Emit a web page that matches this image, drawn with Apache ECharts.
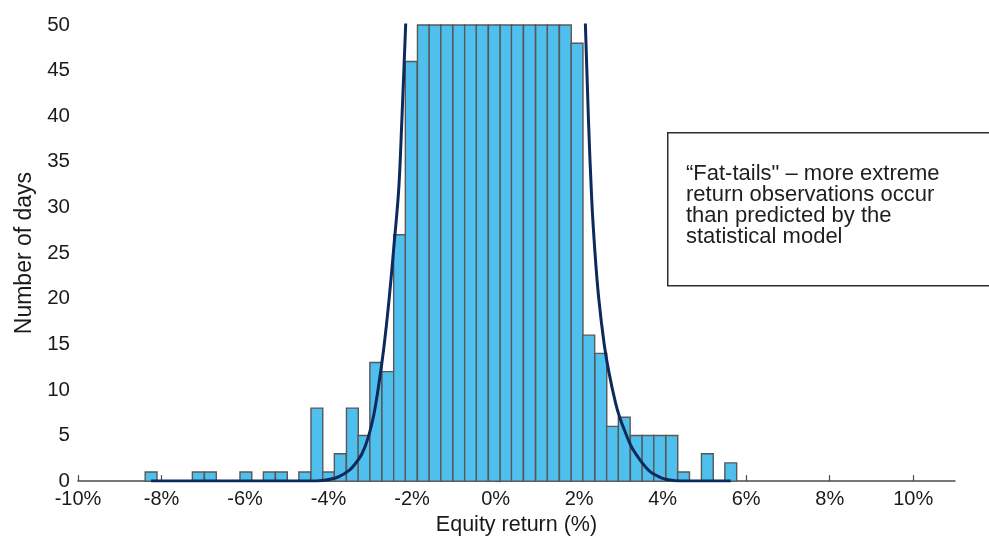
<!DOCTYPE html>
<html>
<head>
<meta charset="utf-8">
<script src="https://cdn.jsdelivr.net/npm/echarts@6/dist/echarts.min.js"></script>
<style>
html,body{margin:0;padding:0;background:#fff;}
#chart{width:989px;height:541px;}
</style>
</head>
<body>
<div id="chart"></div>
<script>
// Histogram bins (centre of bin, % return) and counts (days)
var binCenters = [-8.25, -7.12, -6.83, -5.98, -5.42, -5.13, -4.57, -4.28, -4.00, -3.72, -3.43, -3.15, -2.87, -2.58, -2.30, -2.02,
  -1.73, -1.45, -1.17, -0.88, -0.60, -0.32, -0.03, 0.25, 0.52, 0.81, 1.10, 1.38, 1.67,
  1.95, 2.23, 2.52, 2.80, 3.08, 3.37, 3.65, 3.93, 4.22, 4.50, 5.07, 5.63];
// central bins run off the top of the chart; their heights are estimates
var binCounts = [1, 1, 1, 1, 1, 1, 1, 8, 1, 3, 8, 5, 13, 12, 27, 46,
  68, 95, 128, 165, 205, 240, 255, 245, 210, 170, 125, 90, 64,
  48, 16, 14, 6, 7, 5, 5, 5, 5, 1, 3, 2];
var binWidth = 0.283;

// Fitted "statistical model" curve (null = break above the plot)
var curveX = [-8.25, -4.5, -4.1, -3.77, -3.5, -3.36, -3.2, -3.05, -2.92, -2.8, -2.68, -2.56, -2.44, -2.32, -2.25, -2.15, -2.05,
  0,
  2.05, 2.15, 2.22, 2.3, 2.38, 2.47, 2.6, 2.71, 2.87, 2.97, 3.11, 3.25, 3.43, 3.6, 3.74, 3.9, 4.07, 4.3, 4.6, 5.63];
var curveY = [0, 0, 0.1, 0.45, 1.2, 1.9, 3.0, 4.8, 7.2, 10.5, 14.5, 19.5, 25.5, 32, 39, 50.5, 62,
  null,
  62, 50, 40, 31, 25, 20, 15, 12, 8.6, 7, 5.3, 3.8, 2.5, 1.5, 0.9, 0.5, 0.2, 0.05, 0, 0];

var xTicks = [-10, -8, -6, -4, -2, 0, 2, 4, 6, 8, 10];
var yTicks = [0, 5, 10, 15, 20, 25, 30, 35, 40, 45, 50];

var noteLines = ['\u201cFat-tails" \u2013 more extreme', 'return observations occur', 'than predicted by the', 'statistical model'];

var FONT = '"Liberation Sans", Arial, Helvetica, sans-serif';
var chart = echarts.init(document.getElementById('chart'), null, {renderer: 'canvas'});

var barData = binCenters.map(function (c, i) { return [c, binCounts[i]]; });
var curveData = curveX.map(function (x, i) { return curveY[i] === null ? [x, '-'] : [x, curveY[i]]; });

chart.setOption({
  animation: false,
  backgroundColor: '#ffffff',
  grid: {left: 78, right: 34, top: 25, bottom: 58},
  xAxis: {
    type: 'value', min: -10, max: 11, interval: 2,
    name: 'Equity return (%)', nameLocation: 'middle', nameGap: 31,
    nameTextStyle: {fontFamily: FONT, fontSize: 21.5, color: '#1a1a1a'},
    axisLine: {show: true, onZero: false, lineStyle: {color: '#4a4a4a', width: 1.5}},
    axisTick: {show: true, inside: true, length: 6, customValues: xTicks, lineStyle: {color: '#4a4a4a', width: 1.2}},
    axisLabel: {customValues: xTicks, margin: 8, fontFamily: FONT, fontSize: 20, color: '#1a1a1a',
      formatter: function (v) { return v + '%'; }},
    splitLine: {show: false}
  },
  yAxis: {
    type: 'value', min: 0, max: 50, interval: 5,
    name: 'Number of days', nameLocation: 'middle', nameGap: 40, nameRotate: 90,
    nameTextStyle: {fontFamily: FONT, fontSize: 23, color: '#1a1a1a'},
    axisLine: {show: true, lineStyle: {color: '#4a4a4a', width: 1.5}},
    axisTick: {show: true, inside: true, length: 6, customValues: yTicks, lineStyle: {color: '#4a4a4a', width: 1.2}},
    axisLabel: {customValues: yTicks, margin: 8, fontFamily: FONT, fontSize: 20.5, color: '#1a1a1a'},
    splitLine: {show: false}
  },
  series: [
    {
      type: 'custom',
      data: barData,
      encode: {x: 0, y: 1},
      renderItem: function (params, api) {
        var c = api.value(0), n = api.value(1);
        var p0 = api.coord([c - binWidth / 2, n]);
        var p1 = api.coord([c + binWidth / 2, 0]);
        var shape = echarts.graphic.clipRectByRect({
          x: p0[0], y: p0[1], width: p1[0] - p0[0], height: p1[1] - p0[1]
        }, {
          x: params.coordSys.x, y: params.coordSys.y,
          width: params.coordSys.width, height: params.coordSys.height
        });
        return shape && {
          type: 'rect', shape: shape,
          style: {fill: '#4fc0ee', stroke: '#585858', lineWidth: 1.4}
        };
      },
      z: 2
    },
    {
      type: 'line',
      data: curveData,
      showSymbol: false,
      symbol: 'none',
      smooth: 0.35,
      connectNulls: false,
      clip: true,
      lineStyle: {color: '#0c2a5c', width: 3},
      z: 3
    }
  ],
  graphic: [
    {
      type: 'rect', left: 667, top: 132, z: 10,
      shape: {width: 330, height: 153},
      style: {fill: '#ffffff', stroke: '#2e2e2e', lineWidth: 1.5}
    },
    {
      type: 'text', left: 686, top: 163, z: 11,
      style: {text: noteLines.join('\n'), fontFamily: FONT, fontSize: 22, lineHeight: 21, fill: '#1e1e1e'}
    }
  ]
});
</script>
</body>
</html>
